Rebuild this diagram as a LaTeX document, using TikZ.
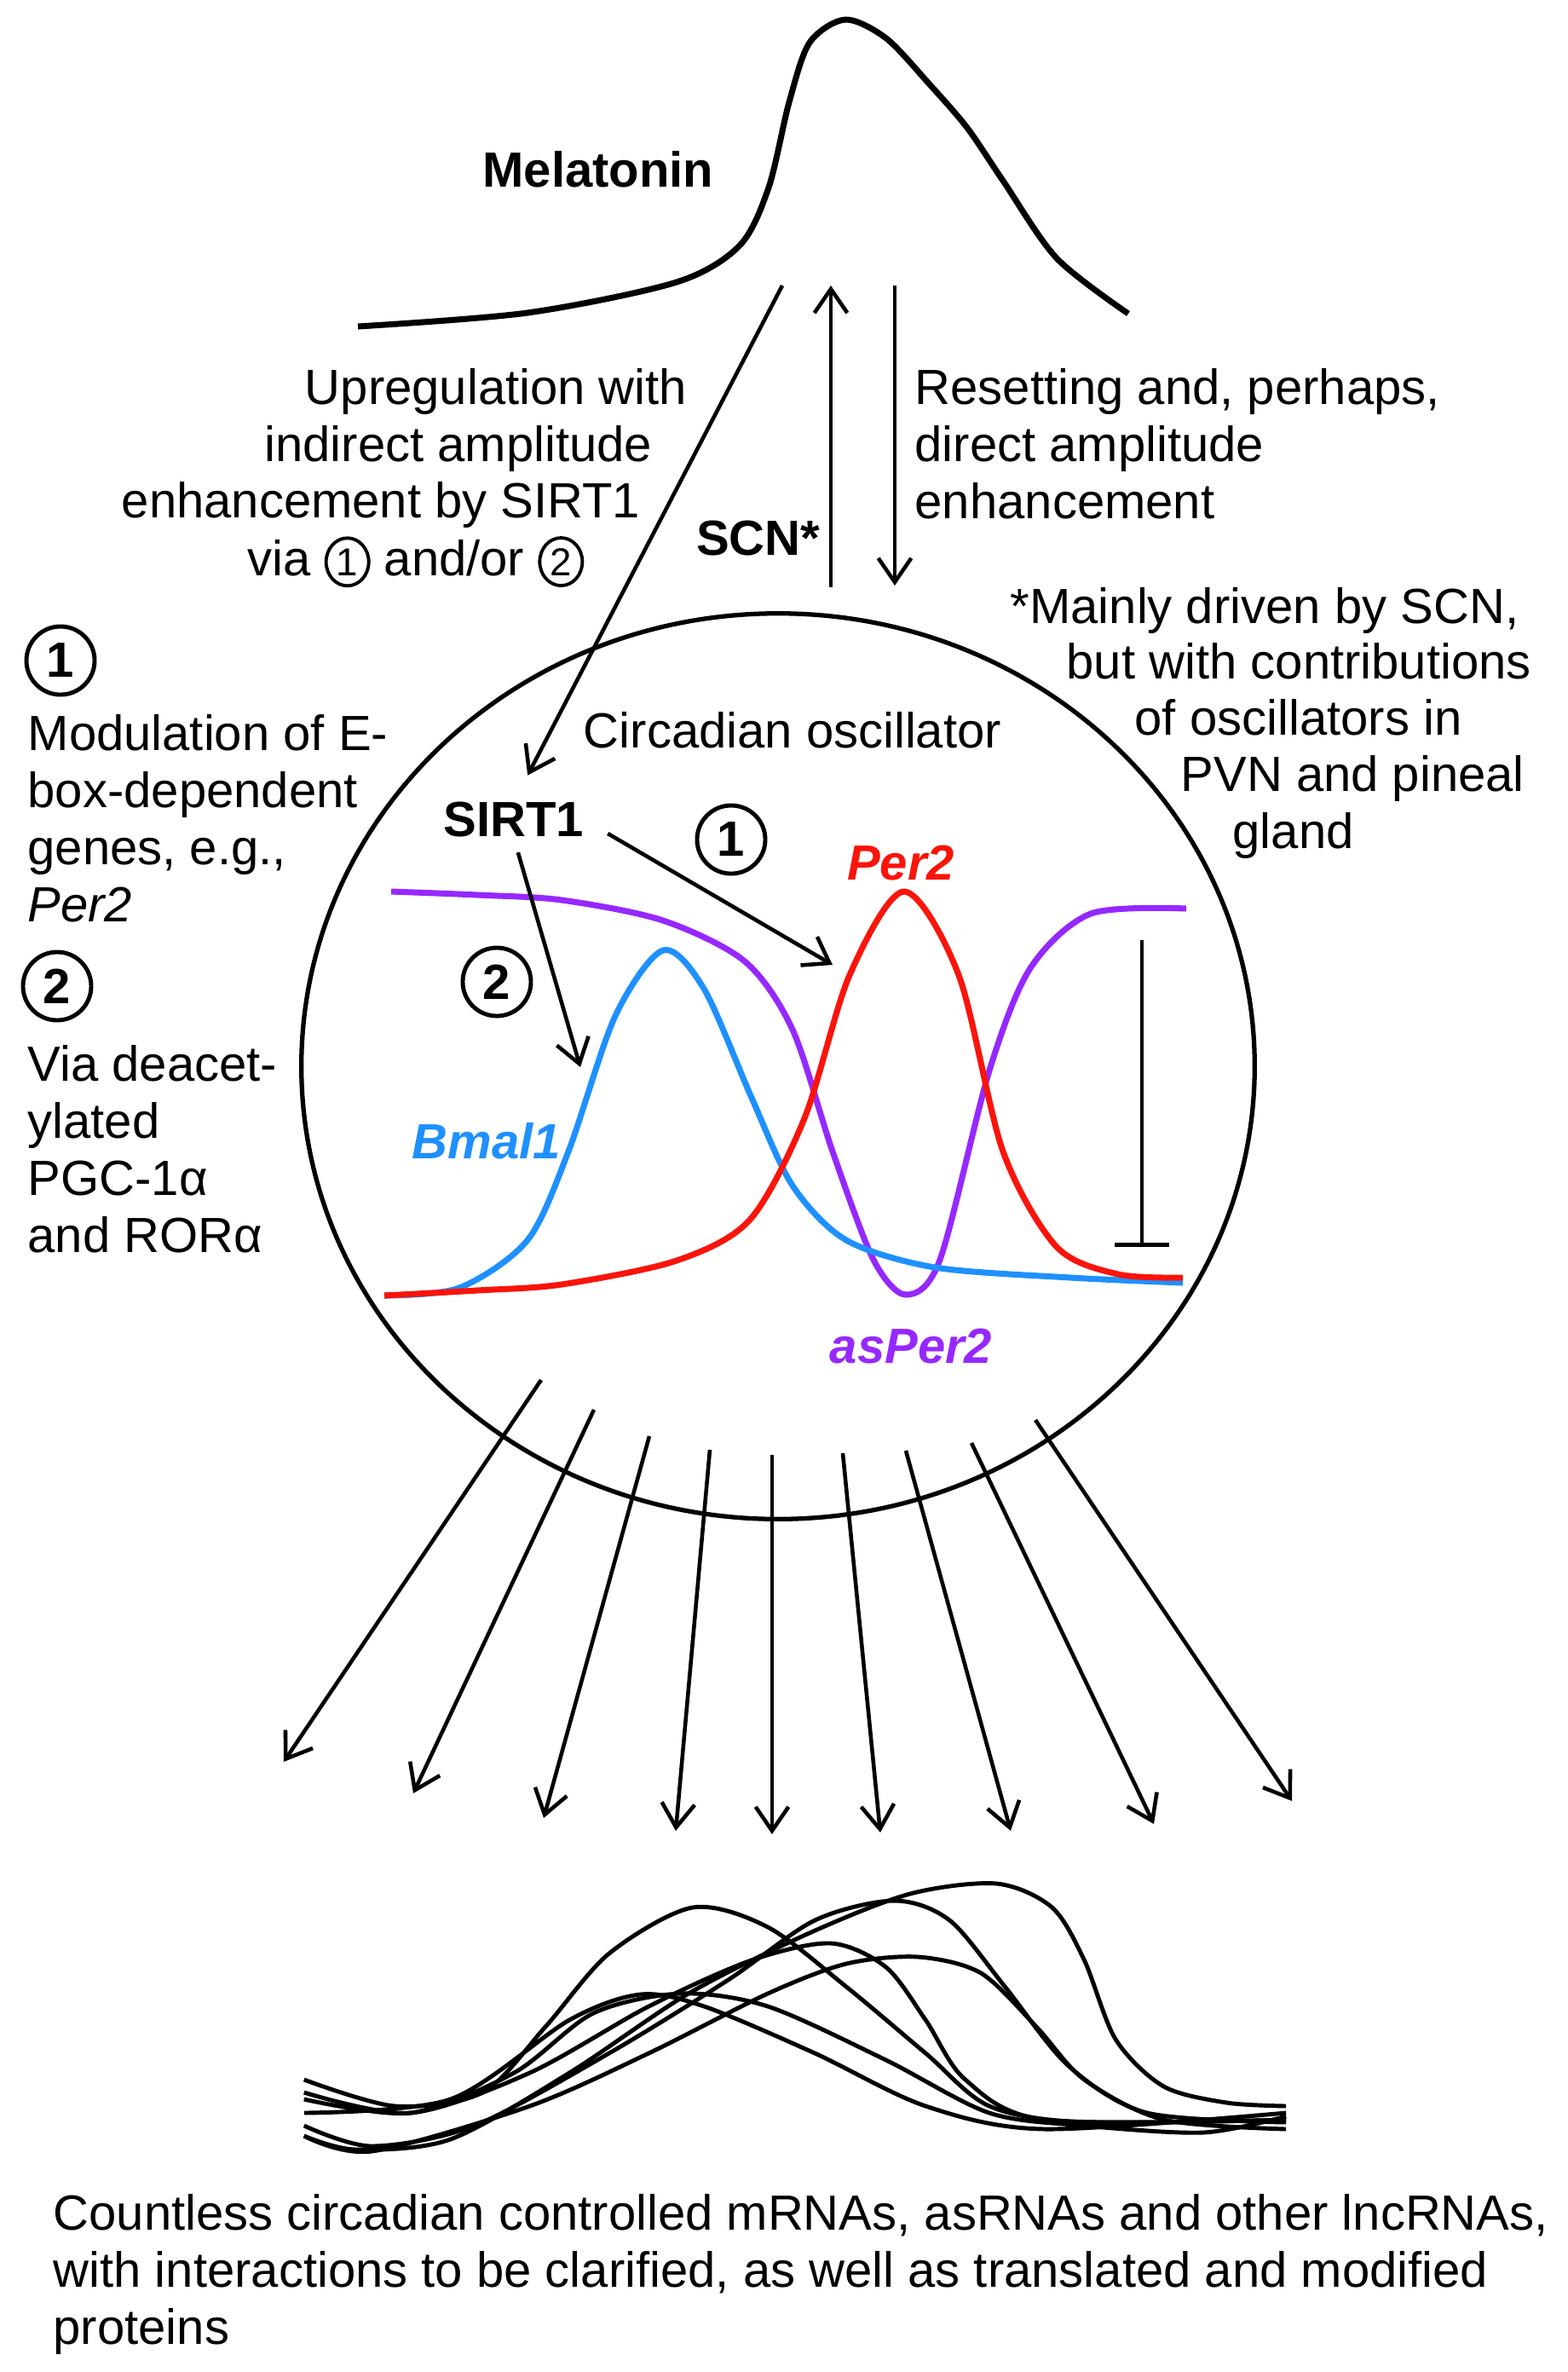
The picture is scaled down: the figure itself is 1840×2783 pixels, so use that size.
\documentclass[tikz,border=0pt]{standalone}
\usepackage{fontspec}
\setmainfont{Liberation Sans}
\usetikzlibrary{arrows.meta, positioning, shapes.geometric}
\definecolor{bmalblue}{RGB}{30,144,255}
\definecolor{perred}{RGB}{250,20,10}
\definecolor{aspurple}{RGB}{150,40,255}
\newcommand{\txtfont}{\fontsize{16.5}{19}\selectfont}
\newcommand{\cnum}[1]{\tikz[baseline=(c.base)]\node[ellipse, draw, line width=1.1pt, inner sep=0pt, minimum width=0.5cm, minimum height=0.56cm, font=\fontsize{13}{15}\selectfont] (c) {#1};}
\tikzset{
	x=0.01cm, y=-0.01cm, % one unit is one pixel of the original, y runs down
	>={Straight Barb[length=8pt,width=11pt]}, % open arrow heads
	every node/.style={font=\txtfont, inner sep=0pt}, % plain text everywhere
	num/.style={circle, draw, line width=1.4pt, minimum size=0.8cm, font=\txtfont\bfseries}, % circled 1 and 2
	link/.style={->, line width=1.3pt}, % black arrows
	wave/.style={line width=2pt, smooth}, % clock gene curves
	rhythm/.style={line width=1.4pt, smooth}, % output curves
}
\begin{document}
\begin{tikzpicture}
	\useasboundingbox (0,0) rectangle (1840,2783);

	% melatonin profile
	\draw[line width=2pt] plot[smooth] coordinates {(420,383) (619,367) (794,331) (868,288) (902,220) (926,120) (950,50) (992,23) (1040,45) (1090,98) (1135,150) (1177,212) (1240,303) (1324,368)};
	\node[font=\txtfont\bfseries] (mel) at (702,199) {Melatonin};

	% text on the left of the SCN arrows
	\node[anchor=base east] (up1) at (807,474) {Upregulation with};
	\node[anchor=base east] (up2) at (766,541) {indirect amplitude};
	\node[anchor=base east] (up3) at (752,607) {enhancement by SIRT1};
	\node[anchor=base east] (up4) at (686,675) {via \cnum{1} and/or \cnum{2}};
	\node[anchor=north west, align=left] (reset) at (1073,432) {Resetting and, perhaps,\\direct amplitude\\enhancement};
	\node[anchor=base east, font=\txtfont\bfseries] (scn) at (963,651) {SCN*};

	% footnote on the right
	\node[anchor=base west] (foot1) at (1185,731) {*Mainly driven by SCN,};
	\node[anchor=base west] (foot2) at (1251,796) {but with contributions};
	\node[anchor=base west] (foot3) at (1331,862) {of oscillators in};
	\node[anchor=base west] (foot4) at (1385,928) {PVN and pineal};
	\node[anchor=base west] (foot5) at (1446,995) {gland};

	% left column
	\node[num] (n1) at (71,775) {1};
	\node[anchor=north west, align=left] (ebox) at (32,838) {Modulation of E-\\box-dependent\\genes, e.g.,\\\textit{Per2}};
	\node[num] (n2) at (67,1157) {2};
	\node[anchor=north west, align=left] (pgc) at (32,1226) {Via deacet-\\ylated\\PGC-1α\\and RORα};

	% the oscillator
	\node[ellipse, draw, line width=1.5pt, minimum width=11.18cm, minimum height=10.62cm] (osc) at (913,1251) {};
	\node (osclabel) at (930,857) {Circadian oscillator};
	\node[font=\txtfont\bfseries] (sirt) at (603,962) {SIRT1};
	\node[num] (c1) at (858,985) {1};
	\node[num] (c2) at (583,1152) {2};

	\draw[wave, aspurple] plot coordinates {(459,1046) (560,1050) (659,1056) (778,1080) (874,1128) (930,1208) (977,1351) (1025,1478) (1063,1519) (1103,1478) (1161,1256) (1209,1136) (1280,1072) (1392,1066)};
	\draw[wave, bmalblue] plot coordinates {(451,1520) (539,1511) (619,1455) (667,1351) (722,1192) (778,1115) (826,1160) (882,1288) (930,1391) (993,1455) (1097,1487) (1256,1499) (1388,1505)};
	\draw[wave, perred] plot coordinates {(451,1520) (560,1514) (659,1507) (794,1479) (880,1431) (944,1312) (997,1144) (1061,1046) (1125,1144) (1177,1351) (1240,1463) (1312,1495) (1388,1499)};

	\node[font=\txtfont\bfseries\itshape, text=perred] (per2) at (1057,1013) {Per2};
	\node[font=\txtfont\bfseries\itshape, text=bmalblue] (bmal) at (571,1339) {Bmal1};
	\node[font=\txtfont\bfseries\itshape, text=aspurple] (asper) at (1069,1579) {asPer2};

	% arrows
	\coordinate (melfoot) at (918,335);
	\coordinate (scnlow) at (975,689);
	\coordinate (scnhigh) at (975,335);
	\coordinate (sethigh) at (1050,335);
	\coordinate (setlow) at (1050,687);
	\coordinate (perhit) at (977,1132);
	\coordinate (bmalhit) at (681,1252);
	\draw[link, shorten >=10pt] (melfoot) -- (sirt.north);
	\draw[link] (scnlow) -- (scnhigh);
	\draw[link] (sethigh) -- (setlow);
	\draw[link, shorten <=9pt] (sirt.east) -- (perhit);
	\draw[link, shorten <=5pt] (sirt.south) -- (bmalhit);
	\draw[line width=1.3pt, -{Bar[width=18pt]}] (1340,1103) -- (1340,1463);

	% outputs of the clock
	\foreach \sx/\sy/\tx/\ty in {635/1619/333/2067, 697/1654/485/2104, 762/1685/638/2133, 833/1701/793/2148, 906/1707/906/2152, 989/1705/1033/2150, 1063/1702/1186/2148, 1140/1693/1354/2140, 1215/1666/1516/2113}
		\draw[link] (\sx,\sy) -- (\tx,\ty);

	\begin{scope}[shift={(10.5,0)}, xscale=0.97]
	\draw[rhythm] plot coordinates {(357,2440) (467,2471) (573,2455) (649,2378) (726,2292) (827,2238) (918,2261) (1013,2331) (1109,2409) (1186,2471) (1301,2490) (1545,2487)};
	\draw[rhythm] plot coordinates {(357,2506) (419,2522) (534,2510) (678,2432) (822,2339) (966,2269) (1090,2222) (1195,2210) (1262,2238) (1301,2300) (1339,2393) (1397,2448) (1473,2467) (1545,2471)};
	\draw[rhythm] plot coordinates {(357,2494) (439,2518) (563,2494) (726,2409) (870,2323) (975,2253) (1071,2230) (1138,2253) (1205,2331) (1282,2424) (1377,2479) (1545,2490)};
	\draw[rhythm] plot coordinates {(357,2455) (486,2479) (630,2432) (774,2354) (898,2300) (994,2280) (1061,2308) (1109,2370) (1157,2440) (1253,2487) (1545,2487)};
	\draw[rhythm] plot coordinates {(357,2506) (439,2524) (630,2471) (774,2409) (918,2339) (1013,2304) (1100,2296) (1176,2315) (1243,2378) (1301,2440) (1397,2487) (1545,2498)};
	\draw[rhythm] plot coordinates {(357,2463) (486,2479) (611,2432) (707,2362) (812,2339) (918,2354) (1061,2417) (1186,2479) (1301,2494) (1445,2502) (1545,2483)};
	\draw[rhythm] plot coordinates {(357,2479) (534,2463) (678,2370) (764,2340) (841,2354) (975,2409) (1109,2471) (1253,2498) (1545,2479)};
	\end{scope}

	\node[anchor=north west, align=left] (outtext) at (62,2574) {Countless circadian controlled mRNAs, asRNAs and other lncRNAs,\\with interactions to be clarified, as well as translated and modified\\proteins};
\end{tikzpicture}
\end{document}
